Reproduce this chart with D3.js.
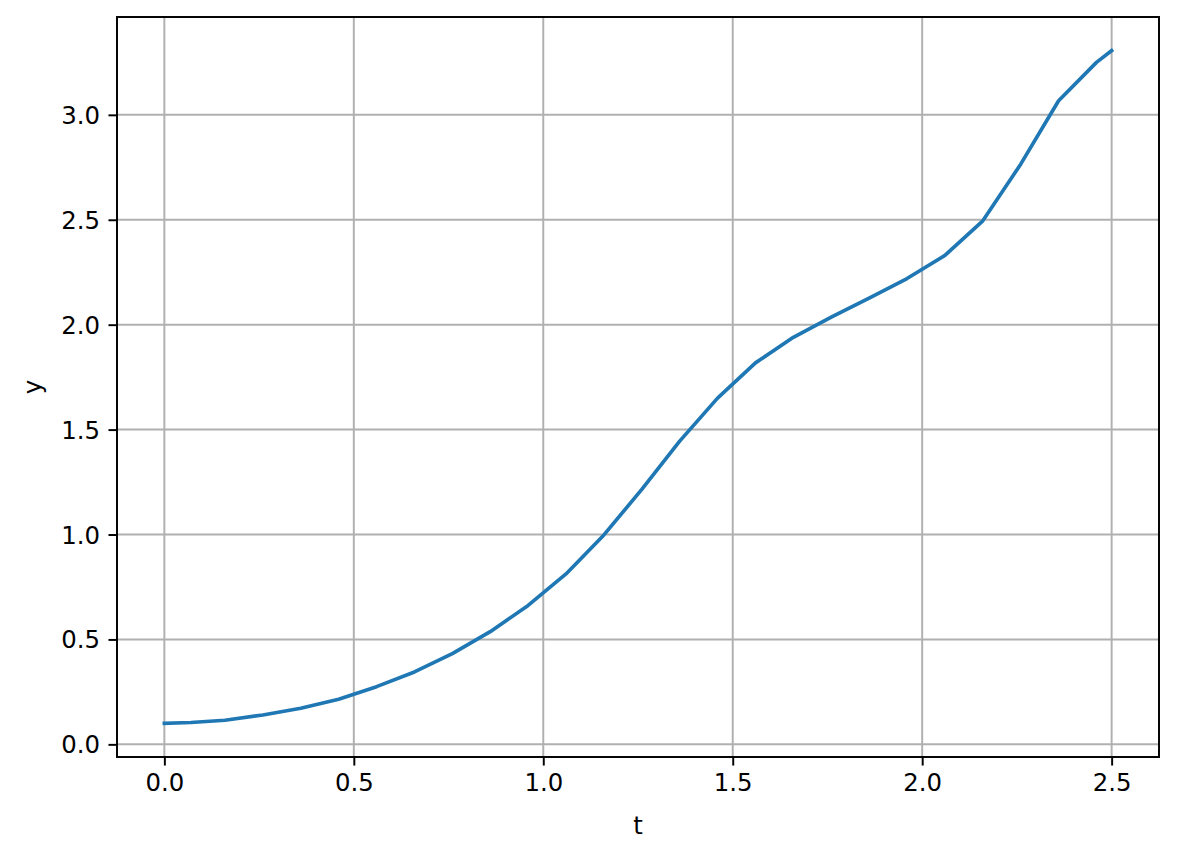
<!DOCTYPE html>
<html>
<head>
<meta charset="utf-8">
<script src="https://cdn.jsdelivr.net/npm/d3@7"></script>
<style>
  html, body { margin: 0; padding: 0; background: #fff; }
  svg text { font-family: "DejaVu Sans", sans-serif; }
</style>
</head>
<body>
<svg id="chart" width="1177" height="858"></svg>
<script>
const tValues = [0, 0.07, 0.16, 0.26, 0.36, 0.46, 0.56, 0.66, 0.76, 0.86, 0.96, 1.06, 1.16, 1.26, 1.36, 1.46, 1.56, 1.66, 1.76, 1.86, 1.96, 2.06, 2.16, 2.26, 2.36, 2.46, 2.5];
const yValues = [0.100, 0.104, 0.115, 0.140, 0.172, 0.215, 0.275, 0.345, 0.432, 0.537, 0.662, 0.812, 0.998, 1.215, 1.445, 1.650, 1.818, 1.940, 2.036, 2.127, 2.220, 2.330, 2.495, 2.765, 3.067, 3.250, 3.306];
const xTicks = [0.0, 0.5, 1.0, 1.5, 2.0, 2.5];
const yTicks = [0.0, 0.5, 1.0, 1.5, 2.0, 2.5, 3.0];
const xLabel = "t";
const yLabel = "y";

const svg = d3.select("#chart");
const L = 117, R = 1159, T = 17, B = 757;
const pt = 2.44;
const fontPx = 24.4;

const x = d3.scaleLinear().domain([-0.125, 2.625]).range([L, R]);
const yMin = 0.100, yMax = 3.306, pad = (yMax - yMin) * 0.05;
const y = d3.scaleLinear().domain([yMin - pad, yMax + pad]).range([B, T]);

// grid
const grid = svg.append("g");
grid.selectAll("line.gx").data(xTicks).join("line")
  .attr("x1", d => x(d)).attr("x2", d => x(d)).attr("y1", T).attr("y2", B)
  .attr("stroke", "#b0b0b0").attr("stroke-width", 0.8 * pt);
grid.selectAll("line.gy").data(yTicks).join("line")
  .attr("y1", d => y(d)).attr("y2", d => y(d)).attr("x1", L).attr("x2", R)
  .attr("stroke", "#b0b0b0").attr("stroke-width", 0.8 * pt);

// line
const line = d3.line().x((d, i) => x(tValues[i])).y(d => y(d));
svg.append("path").datum(yValues)
  .attr("d", line).attr("fill", "none")
  .attr("stroke", "#1f77b4").attr("stroke-width", 1.5 * pt)
  .attr("stroke-linecap", "square").attr("stroke-linejoin", "round");

// axes
const xAxis = d3.axisBottom(x).tickValues(xTicks).tickFormat(d3.format(".1f"))
  .tickSize(3.5 * pt).tickPadding(3.5 * pt);
const yAxis = d3.axisLeft(y).tickValues(yTicks).tickFormat(d3.format(".1f"))
  .tickSize(3.5 * pt).tickPadding(3.5 * pt);

const gx = svg.append("g").attr("transform", `translate(0,${B})`).call(xAxis);
const gy = svg.append("g").attr("transform", `translate(${L},0)`).call(yAxis);
[gx, gy].forEach(g => {
  g.select(".domain").remove();
  g.selectAll(".tick line").attr("stroke", "#000").attr("stroke-width", 0.8 * pt);
  g.selectAll(".tick text").attr("fill", "#000").style("font-size", fontPx + "px")
    .style("font-family", "'DejaVu Sans', sans-serif");
});
gy.selectAll(".tick text").attr("dy", "0.35em");

// spines
svg.append("rect").attr("x", L).attr("y", T).attr("width", R - L).attr("height", B - T)
  .attr("fill", "none").attr("stroke", "#000").attr("stroke-width", 0.8 * pt);

// labels
svg.append("text").attr("x", (L + R) / 2).attr("y", 834)
  .attr("text-anchor", "middle").style("font-size", fontPx + "px").text(xLabel);
svg.append("text").attr("transform", `translate(41,${(T + B) / 2}) rotate(-90)`)
  .attr("text-anchor", "middle").style("font-size", fontPx + "px").text(yLabel);
</script>
</body>
</html>
